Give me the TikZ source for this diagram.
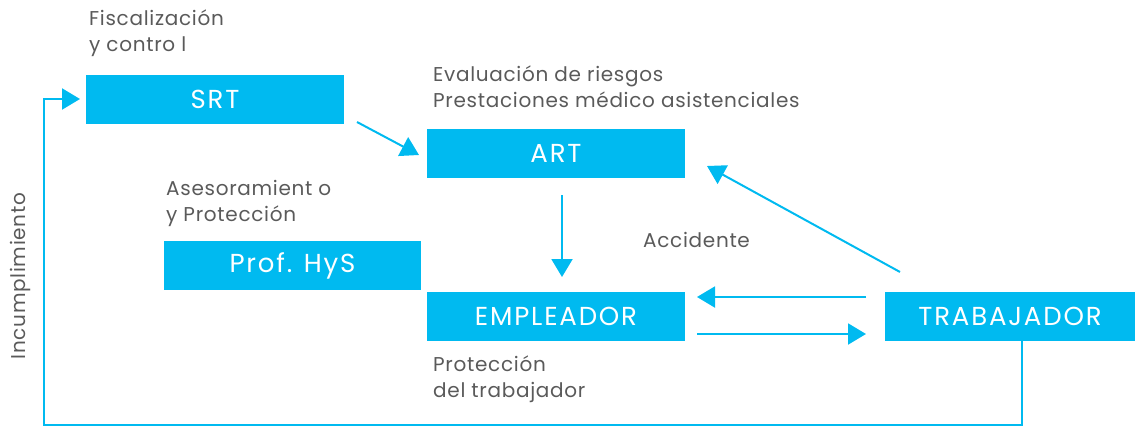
\documentclass[tikz,border=0pt]{standalone}
\usepackage{fontspec}
\setmainfont{Poppins}
\usetikzlibrary{arrows.meta}
\definecolor{cyanbox}{HTML}{00BAF0}
\definecolor{txtgray}{HTML}{5A5A5A}
\begin{document}
\begin{tikzpicture}[x=1pt,y=-1pt,
  box/.style={fill=cyanbox,text=white,minimum height=49pt,inner sep=0pt,font=\fontsize{26}{30}\selectfont\addfontfeatures{LetterSpace=7}},
  lbl/.style={text=txtgray,align=left,anchor=north west,inner sep=0pt,font=\fontsize{20}{26}\selectfont\addfontfeatures{LetterSpace=3.5}},
  conn/.style={draw=cyanbox,line width=2pt,-{Triangle[length=18pt,width=21pt]}},
  plain/.style={draw=cyanbox,line width=2pt}]
\useasboundingbox (0,0) rectangle (1135,426);
\node[box,minimum width=258pt] (srt) at (215,99) {SRT};
\node[box,minimum width=258pt] (art) at (556,153.5) {ART};
\node[box,minimum width=257pt] (prof) at (292.5,265.5) {Prof. HyS};
\node[box,minimum width=258pt] (emp) at (556,316.5) {EMPLEADOR};
\node[box,minimum width=250pt] (trab) at (1010,316.5) {TRABAJADOR};

\node[lbl] (t1) at (89,10) {Fiscalización\\y contro l};
\node[lbl] (t2) at (433,66) {Evaluación de riesgos\\Prestaciones médico asistenciales};
\node[lbl] (t3) at (166,180) {Asesoramient o\\y Protección};
\node[lbl] (t4) at (643,232) {Accidente};
\node[lbl] (t5) at (433,356) {Protección\\del trabajador};
\node[text=txtgray,rotate=90,inner sep=0pt,font=\fontsize{20}{24}\selectfont\addfontfeatures{LetterSpace=3.5}] (t6) at (20,276) {Incumplimiento};

\coordinate (a1s) at (357,122);
\coordinate (a1e) at (419,155);
\draw[conn] (a1s) -- (a1e);
\coordinate (a2s) at (562,195);
\coordinate (a2e) at (562,277);
\draw[conn] (a2s) -- (a2e);
\coordinate (a3s) at (900,272);
\coordinate (a3e) at (707,166);
\draw[conn] (a3s) -- (a3e);
\coordinate (a4s) at (866,297);
\coordinate (a4e) at (697,297);
\draw[conn] (a4s) -- (a4e);
\coordinate (a5s) at (697,334);
\coordinate (a5e) at (866,334);
\draw[conn] (a5s) -- (a5e);
\coordinate (fb) at (80,99);
\draw[conn] (trab.south -| 1022,0) -- (1022,425) -- (44,425) -- (44,99) -- (fb);
\end{tikzpicture}
\end{document}
